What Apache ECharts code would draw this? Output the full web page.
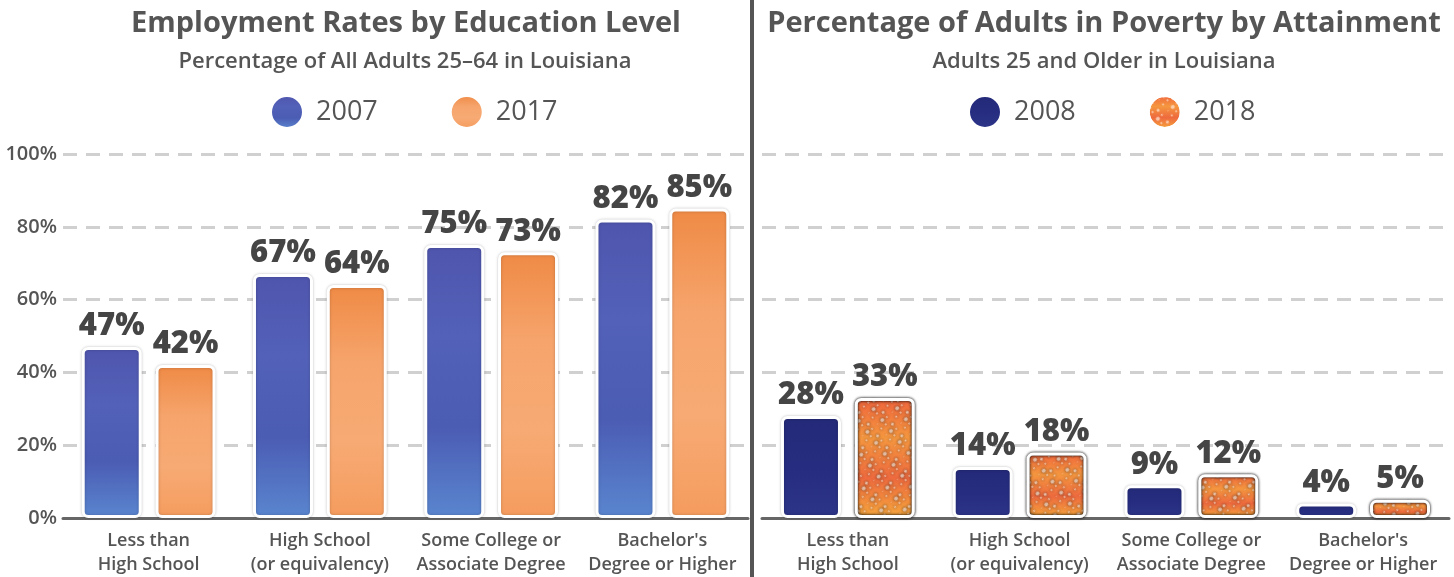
<!DOCTYPE html>
<html><head><meta charset="utf-8">
<script src="https://cdn.jsdelivr.net/npm/echarts@6/dist/echarts.min.js"></script>
<style>html,body{margin:0;padding:0;background:#fff}#c{width:1454px;height:577px}</style>
</head><body><div id="c"></div>
<script>
const categories = ['Less than\nHigh School', 'High School\n(or equivalency)', 'Some College or\nAssociate Degree', "Bachelor's\nDegree or Higher"];
const emp2007 = [47, 67, 75, 82];
const emp2017 = [42, 64, 73, 85];
const pov2008 = [28, 14, 9, 4];
const pov2018 = [33, 18, 12, 5];
const yTicks = [0, 20, 40, 60, 80, 100];

const FONT = '"Open Sans", sans-serif';
const GRAY = '#555';

const chart = echarts.init(document.getElementById('c'));

function grad(stops) {
  return new echarts.graphic.LinearGradient(0, 0, 0, 1, stops.map((c, i) => ({offset: i / (stops.length - 1), color: c})));
}
const colors = {
  '2007': grad(['#4f55ad', '#5361b8', '#4b5cb3', '#5a86cf']),
  '2017': grad(['#ef8a45', '#f6a46c', '#f7aa74', '#f59c5e']),
  '2008': grad(['#242a78', '#262d80', '#2d3588']),
  '2018': grad(['#f0643c', '#f5973f', '#ee6a3e', '#f7a83c'])
};

function barSeries(name, data, idx, decal) {
  return {
    type: 'bar', name: name, data: data, xAxisIndex: idx, yAxisIndex: idx,
    barWidth: 60, barGap: '23%',
    itemStyle: {
      color: colors[name], borderColor: '#fff', borderWidth: 3, borderRadius: 5,
      shadowColor: 'rgba(0,0,0,0.22)', shadowBlur: 3,
      decal: decal || null
    },
    label: {
      show: true, position: 'top', distance: 5, formatter: '{c}%',
      fontFamily: FONT, fontWeight: 800, fontSize: 31, color: '#454545'
    }
  };
}

const spotDecal = {
  symbol: 'circle', color: 'rgba(255,232,215,0.7)', symbolSize: 1,
  dashArrayX: [[4, 3, 2, 6], [2, 5, 5, 2], [3, 6, 1, 4]], dashArrayY: [3, 2, 4, 3, 2, 5], rotation: 0.9
};

function xAxis(idx) {
  return {
    type: 'category', gridIndex: idx, data: categories,
    axisTick: {show: false},
    axisLine: {lineStyle: {color: '#666', width: 3}},
    axisLabel: {fontFamily: FONT, fontWeight: 600, fontSize: 18, color: GRAY, lineHeight: 24, margin: 11, interval: 0}
  };
}
function yAxis(idx, showLabels) {
  return {
    type: 'value', gridIndex: idx, min: 0, max: 100, interval: 20,
    axisLine: {show: false}, axisTick: {show: false},
    axisLabel: {show: showLabels, formatter: v => yTicks.includes(v) ? v + '%' : '', fontFamily: FONT, fontWeight: 600, fontSize: 20, color: GRAY, margin: 6},
    splitLine: {lineStyle: {color: '#d0d0d0', width: 3, type: [14, 9]}}
  };
}

function legend(names, left) {
  return {
    data: names, left: left, top: 95, padding: 0, icon: 'circle', itemWidth: 32, itemHeight: 32, itemGap: 72, selectedMode: false,
    textStyle: {fontFamily: FONT, fontSize: 27, color: GRAY, padding: [0, 0, 0, 8]}
  };
}

const option = {
  animation: false,
  grid: [
    {left: 63, width: 685, top: 154, height: 366},
    {left: 762, width: 687, top: 154, height: 366}
  ],
  xAxis: [xAxis(0), xAxis(1)],
  yAxis: [yAxis(0, true), yAxis(1, false)],
  legend: [legend(['2007', '2017'], 270), legend(['2008', '2018'], 968)],
  graphic: [
    {type: 'text', x: 406, y: 24, style: {text: 'Employment Rates by Education Level', font: '700 29px ' + FONT, fill: GRAY, textAlign: 'center', textVerticalAlign: 'middle'}},
    {type: 'text', x: 405, y: 62, style: {text: 'Percentage of All Adults 25–64 in Louisiana', font: '600 22px ' + FONT, fill: GRAY, textAlign: 'center', textVerticalAlign: 'middle'}},
    {type: 'text', x: 1104, y: 24, style: {text: 'Percentage of Adults in Poverty by Attainment', font: '700 29px ' + FONT, fill: GRAY, textAlign: 'center', textVerticalAlign: 'middle'}},
    {type: 'text', x: 1104, y: 62, style: {text: 'Adults 25 and Older in Louisiana', font: '600 22px ' + FONT, fill: GRAY, textAlign: 'center', textVerticalAlign: 'middle'}},
    {type: 'line', shape: {x1: 752, y1: 0, x2: 752, y2: 577}, style: {stroke: '#555', lineWidth: 4}}
  ],
  series: [
    barSeries('2007', emp2007, 0),
    barSeries('2017', emp2017, 0),
    barSeries('2008', pov2008, 1),
    barSeries('2018', pov2018, 1, spotDecal)
  ]
};
chart.setOption(option);
</script></body></html>
